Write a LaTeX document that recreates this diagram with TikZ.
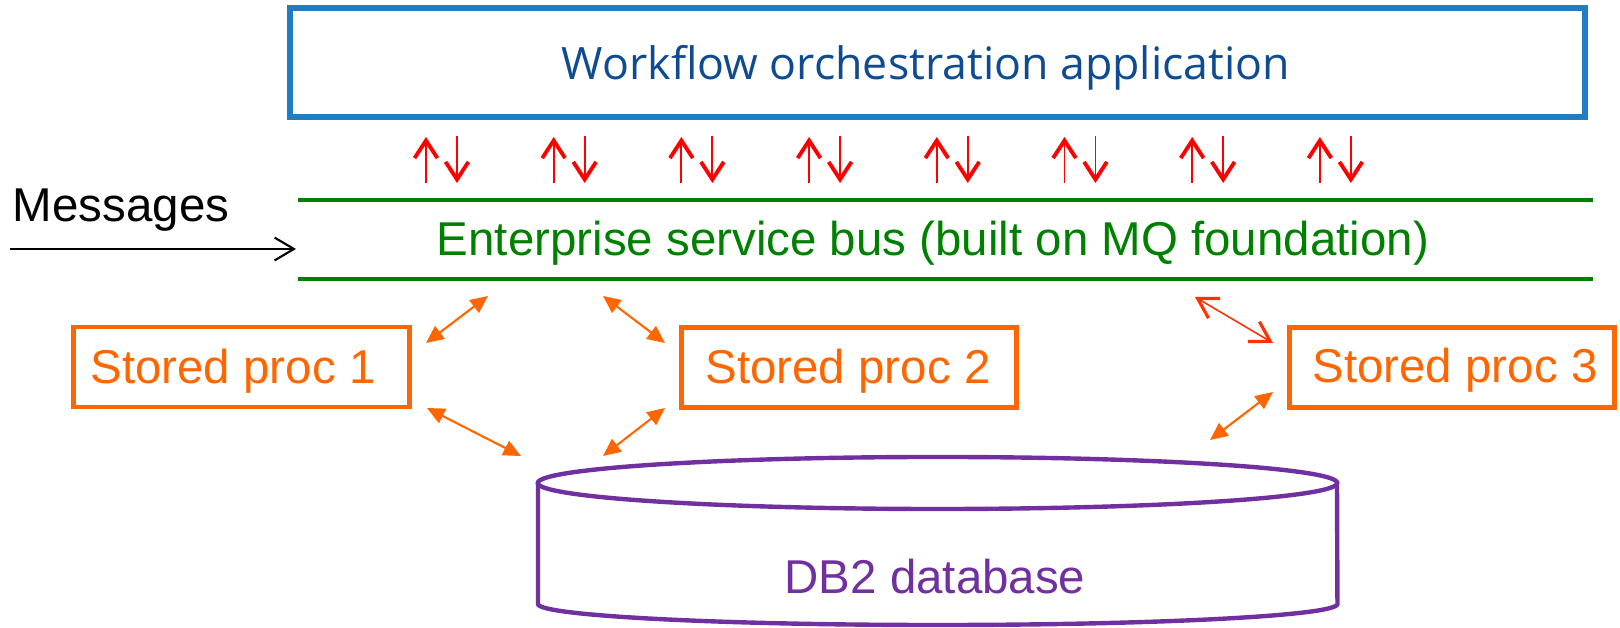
\documentclass[tikz,border=0pt]{standalone}
\usepackage{fontspec}
\setmainfont{Liberation Sans}
\newfontfamily\appfont{Open Sans}
\usepackage{xcolor}
\usetikzlibrary{arrows.meta, positioning}

\definecolor{appblue}{RGB}{30,125,195}
\definecolor{apptext}{RGB}{15,75,145}
\definecolor{busgreen}{RGB}{0,128,0}
\definecolor{procorange}{RGB}{255,102,0}
\definecolor{dbpurple}{RGB}{112,48,160}
\definecolor{syncred}{RGB}{255,0,0}
\definecolor{linkred}{RGB}{255,51,0}

\begin{document}
\begin{tikzpicture}[
    x=0.01cm, y=-0.01cm,
    txt/.style={font=\fontsize{13.5}{16}\selectfont, inner sep=0pt, anchor=base},
    appbox/.style={rectangle, draw=appblue, line width=1.7pt, minimum width=12.95cm, minimum height=1.09cm, inner sep=0pt},
    procbox/.style={rectangle, draw=procorange, line width=1.4pt, minimum height=0.8cm, inner sep=0pt},
    busline/.style={busgreen, line width=1.1pt},
    dbline/.style={dbpurple, line width=1.25pt},
    sync/.style={-{Straight Barb[length=5pt,width=6.5pt,line width=1.1pt]}, syncred, line width=0.55pt},
    link/.style={{Triangle[length=5pt,width=4.5pt]}-{Triangle[length=5pt,width=4.5pt]}, procorange, line width=0.6pt},
    openlink/.style={{Straight Barb[length=5.5pt,width=6.5pt,line width=0.9pt]}-{Straight Barb[length=5.5pt,width=6.5pt,line width=0.9pt]}, linkred, line width=0.45pt},
    msgarrow/.style={-{Straight Barb[length=5.5pt,width=6.5pt,line width=0.6pt]}, black, line width=0.6pt}
]
\useasboundingbox (0,0) rectangle (1620,628);

% Application
\node[appbox] (app) at (937.5,62.5) {};
\node[text=apptext, font=\appfont\fontsize{12.7}{16}\selectfont, inner sep=0pt, anchor=base] (appl) at (926,80) {Workflow orchestration application};

% Request / reply arrows
\foreach \i in {0,...,7} {
  \pgfmathsetmacro\ux{426+127.7*\i}
  \coordinate (up\i) at (\ux,183);
  \coordinate (upt\i) at (\ux,137);
  \coordinate (dn\i) at (\ux+31,136);
  \coordinate (dnt\i) at (\ux+31,183);
  \draw[sync] (up\i) -- (upt\i);
  \draw[sync] (dn\i) -- (dnt\i);
}

% Service bus
\coordinate (busnw) at (298,200);
\coordinate (busne) at (1593,200);
\coordinate (bussw) at (298,279);
\coordinate (busse) at (1593,279);
\draw[busline] (busnw) -- (busne);
\draw[busline] (bussw) -- (busse);
\node[txt, text=busgreen] (bus) at (933,256) {Enterprise service bus (built on MQ foundation)};

% Messages
\node[txt] (msg) at (121,222) {Messages};
\coordinate (msgstart) at (10,249);
\coordinate (msgend) at (296,249);
\draw[msgarrow] (msgstart) -- (msgend);

% Stored procedures
\node[procbox, minimum width=3.35cm] (proc1) at (241.5,367) {};
\node[procbox, minimum width=3.34cm] (proc2) at (849,367.5) {};
\node[procbox, minimum width=3.24cm] (proc3) at (1452,367.5) {};
\node[txt, text=procorange] (proc1l) at (233,384) {Stored proc 1};
\node[txt, text=procorange] (proc2l) at (848,384) {Stored proc 2};
\node[txt, text=procorange] (proc3l) at (1455,383) {Stored proc 3};

% Database
\draw[dbline] (538,483) -- (538,604) arc[start angle=180, end angle=360, x radius=3.995cm, y radius=0.21cm] -- (1337,483);
\draw[dbline] (937.5,483) ellipse[x radius=3.995cm, y radius=0.26cm];
\node[txt, text=dbpurple] (db) at (935,594) {DB2 database};

% Links
\coordinate (l1a) at (488,296);
\coordinate (l1b) at (426,343);
\coordinate (l2a) at (603,296);
\coordinate (l2b) at (665,343);
\coordinate (l3a) at (427,408);
\coordinate (l3b) at (521,456);
\coordinate (l4a) at (665,408);
\coordinate (l4b) at (603,456);
\coordinate (l5a) at (1195,297);
\coordinate (l5b) at (1273,343);
\coordinate (l6a) at (1273,392);
\coordinate (l6b) at (1210,440);
\draw[link] (l1a) -- (l1b);
\draw[link] (l2a) -- (l2b);
\draw[link] (l3a) -- (l3b);
\draw[link] (l4a) -- (l4b);
\draw[openlink] (l5a) -- (l5b);
\draw[link] (l6a) -- (l6b);

\end{tikzpicture}
\end{document}
